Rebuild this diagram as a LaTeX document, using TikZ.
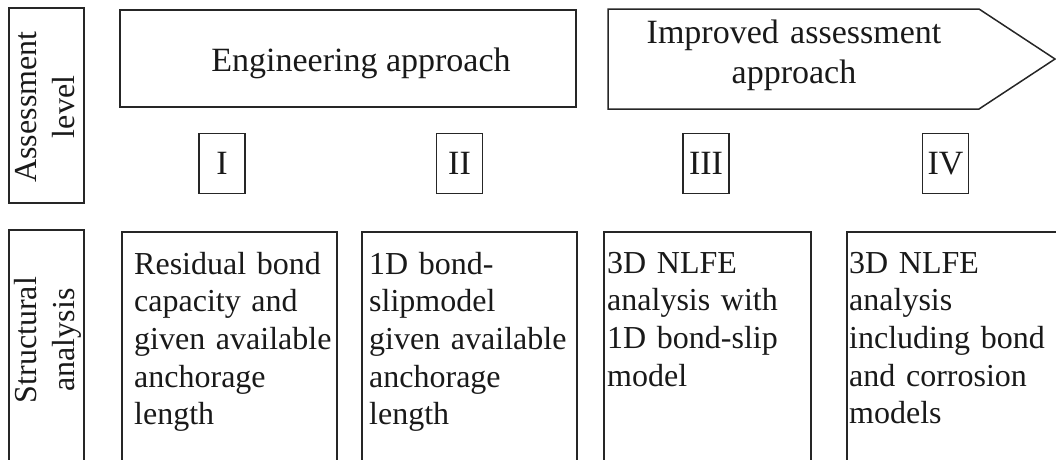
\documentclass[tikz,border=0pt]{standalone}
\usepackage{fontspec}
\setmainfont{Liberation Serif}
\begin{document}
\begin{tikzpicture}[x=1pt,y=-1pt,
  frame/.style={draw=black!85, line width=1.5pt},
  ink/.style={text=black!90},
  big/.style={ink, font=\fontsize{34}{40}\selectfont},
  small/.style={ink, font=\fontsize{32}{37.7}\selectfont},
  emptybox/.style={frame, inner sep=0pt},
  numbox/.style={frame, big, inner sep=0pt, minimum width=46pt, minimum height=60pt},
  bodytext/.style={small, inner sep=0pt, text width=260pt, align=left, anchor=base west},
  sidetext/.style={small, inner sep=0pt, rotate=90, align=center},
]
\useasboundingbox (0,0) rectangle (1056,459);
\clip (0,0) rectangle (1056,459);

% row headings (rotated)
\node[emptybox, minimum width=75pt, minimum height=195pt] (lvlbox) at (46.5,105.5) {};
\node[sidetext] (lvltext) at (45,107) {Assessment\\level};
\node[emptybox, minimum width=75pt, minimum height=260pt] (strbox) at (46.5,360) {};
\node[sidetext] (strtext) at (48,340) {Structural\\analysis};

% approach headers
\node[emptybox, minimum width=456pt, minimum height=97pt] (engbox) at (348,58.5) {};
\node[big, inner sep=0pt, anchor=base] (engtext) at (361,71) {Engineering approach};

\coordinate (arA) at (608,9);
\coordinate (arB) at (979,9);
\coordinate (arTip) at (1055,59);
\coordinate (arC) at (979,109);
\coordinate (arD) at (608,109);
\draw[frame, line join=miter] (arA) -- (arB) -- (arTip) -- (arC) -- (arD) -- cycle;
\node[big, inner sep=0pt, text width=340pt, align=center, anchor=base] (imptext) at (794,43)
  {Improved assessment\\approach};

% assessment levels
\node[numbox] (lvI)   at (222,163.5) {I};
\node[numbox] (lvII)  at (459.5,163.5) {II};
\node[numbox] (lvIII) at (706,163.5) {III};
\node[numbox] (lvIV)  at (945.5,163.5) {IV};

% structural analysis boxes
\node[emptybox, minimum width=215pt, minimum height=258pt] (sa1) at (229.5,361) {};
\node[emptybox, minimum width=215pt, minimum height=258pt] (sa2) at (469.5,361) {};
\node[emptybox, minimum width=207pt, minimum height=258pt] (sa3) at (707.5,361) {};
\node[emptybox, minimum width=228pt, minimum height=258pt] (sa4) at (961,361) {};

\node[bodytext] (sa1text) at (134,274)
  {Residual bond\\capacity and\\given available\\anchorage\\length};
\node[bodytext] (sa2text) at (369,274)
  {1D bond-\\slipmodel\\given available\\anchorage\\length};
\node[bodytext] (sa3text) at (607,273)
  {3D NLFE\\analysis with\\1D bond-slip\\model};
\node[bodytext] (sa4text) at (849,273)
  {3D NLFE\\analysis\\including bond\\and corrosion\\models};
\end{tikzpicture}
\end{document}
